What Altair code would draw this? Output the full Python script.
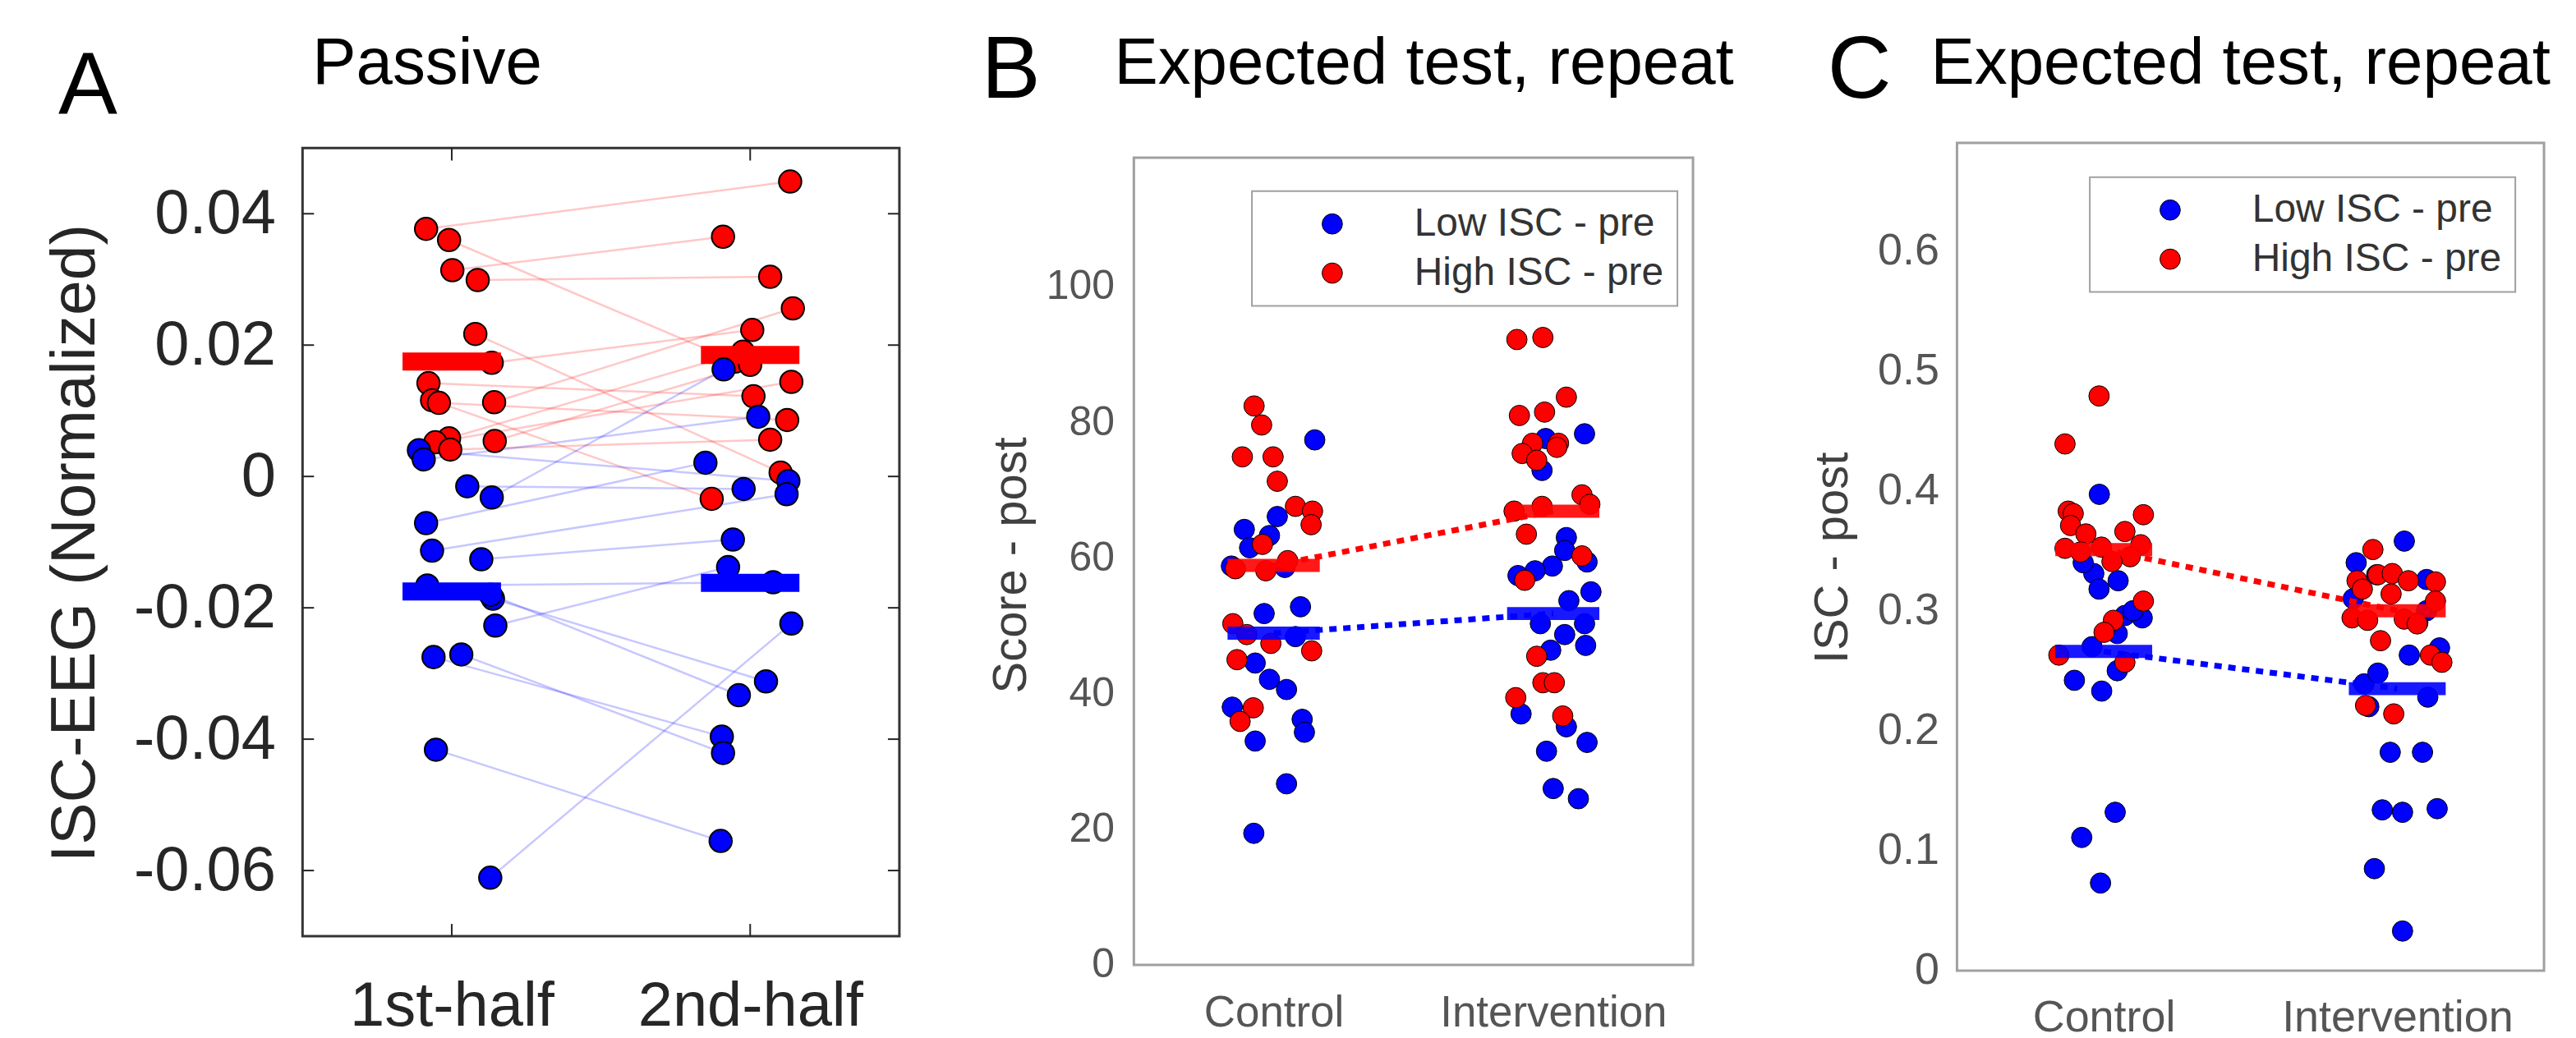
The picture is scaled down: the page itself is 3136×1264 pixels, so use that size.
import altair as alt
import pandas as pd

FONT = "Liberation Sans"

panel_letters = ["A", "B", "C"]
panel_titles = ["Passive", "Expected test, repeat", "Expected test, repeat"]
legend_labels = ["Low ISC - pre", "High ISC - pre"]

# ---------------- Panel A data ----------------
a_x_ticks = [1, 2]
a_x_labels = ["1st-half", "2nd-half"]
a_y_ticks = [-0.06, -0.04, -0.02, 0, 0.02, 0.04]
a_frame = [0.5, 2.5, -0.07, 0.05]          # x0, x1, y0, y1 of the axes box

a_red_x1 = [0.914, 0.991, 1.002, 1.087, 1.079, 1.134, 0.922, 0.934, 0.957, 1.142, 0.991, 0.945, 0.995, 1.144]
a_red_y1 = [0.0377, 0.0360, 0.0314, 0.0299, 0.0217, 0.0173, 0.0142, 0.0116, 0.0112, 0.0113, 0.0058, 0.0052, 0.0041, 0.0054]
a_red_x2 = [2.134, 1.950, 1.909, 2.067, 2.102, 2.007, 2.011, 1.871, 2.124, 2.143, 1.976, 2.138, 2.067, 2.000]
a_red_y2 = [0.0449, 0.0175, 0.0365, 0.0304, 0.0006, 0.0223, 0.0122, -0.0034, 0.0086, 0.0256, 0.0190, 0.0144, 0.0056, 0.0170]

a_blue_x1 = [0.890, 0.906, 1.052, 1.134, 0.914, 0.934, 1.099, 0.918, 1.138, 1.130, 1.146, 0.939, 1.032, 0.947, 1.129]
a_blue_y1 = [0.0040, 0.0026, -0.0015, -0.0032, -0.0071, -0.0113, -0.0126, -0.0166, -0.0186, -0.0180, -0.0227, -0.0275, -0.0271, -0.0416, -0.0611]
a_blue_x2 = [2.128, 2.027, 1.978, 1.911, 1.850, 2.122, 1.942, 2.077, 2.053, 1.962, 1.926, 1.905, 1.909, 1.901, 2.138]
a_blue_y2 = [-0.0007, 0.0091, -0.0019, 0.0163, 0.0021, -0.0027, -0.0096, -0.0161, -0.0312, -0.0333, -0.0138, -0.0396, -0.0421, -0.0555, -0.0224]

a_mean_lo = [0.835, 1.835]
a_mean_hi = [1.165, 2.165]
a_mean_red = [0.0175, 0.0185]
a_mean_blue = [-0.0175, -0.0162]

# ---------------- Panel B data ----------------
b_x_ticks = [1, 2]
b_x_labels = ["Control", "Intervention"]
b_y_ticks = [0, 20, 40, 60, 80, 100]
b_frame = [0.5, 2.5, 0, 119]

b_blue_x = [1.147, 0.895, 1.013, 0.985, 0.914, 0.849, 1.040, 0.966, 1.096, 1.078, 0.934, 0.985, 1.046, 0.852, 1.102, 1.110, 0.934, 1.046, 0.929,
            2.112, 1.973, 1.960, 2.047, 2.041, 1.997, 1.935, 1.874, 2.121, 2.135, 2.056, 1.954, 2.112, 2.041, 2.116, 1.991, 1.885, 2.047, 2.121, 1.976, 2.000, 2.090]
b_blue_y = [77.4, 64.2, 66.1, 63.3, 61.5, 58.8, 58.6, 51.8, 52.8, 48.4, 44.5, 42.1, 40.6, 38.0, 36.2, 34.3, 33.0, 26.7, 19.4,
            78.3, 77.6, 72.9, 63.0, 61.1, 58.8, 58.1, 57.4, 59.4, 55.0, 53.7, 50.3, 50.3, 48.7, 47.1, 46.4, 37.0, 35.1, 32.8, 31.5, 26.0, 24.5]
b_red_x = [0.930, 0.957, 0.888, 0.998, 1.013, 1.078, 1.139, 1.134, 0.960, 0.863, 0.972, 1.050, 0.854, 0.904, 0.990, 0.869, 1.136, 0.927, 0.880,
           1.870, 1.963, 2.047, 1.879, 1.969, 1.926, 2.019, 1.889, 1.941, 2.013, 2.103, 2.131, 1.904, 2.103, 1.898, 1.941, 1.963, 2.004, 1.866, 2.034, 1.960, 1.860]
b_red_y = [82.4, 79.6, 74.9, 74.9, 71.3, 67.6, 66.9, 64.9, 62.0, 58.4, 58.1, 59.6, 50.3, 48.7, 47.4, 45.0, 46.3, 37.9, 35.9,
           92.2, 92.5, 83.7, 81.0, 81.5, 76.9, 76.9, 75.4, 74.4, 76.3, 69.3, 67.9, 63.5, 60.3, 56.7, 45.5, 41.6, 41.6, 39.4, 36.7, 67.6, 66.9]
b_mean_lo = [0.835, 1.835]
b_mean_hi = [1.165, 2.165]
b_mean_blue = [48.9, 51.8]
b_mean_red = [58.9, 66.9]

# ---------------- Panel C data ----------------
c_x_ticks = [1, 2]
c_x_labels = ["Control", "Intervention"]
c_y_ticks = [0, 0.1, 0.2, 0.3, 0.4, 0.5, 0.6]
c_frame = [0.5, 2.5, 0, 0.69]

c_blue_x = [0.985, 0.966, 1.049, 0.984, 1.072, 1.131, 1.046, 1.046, 0.900, 0.993, 1.039, 0.925, 0.989, 0.930, 1.100, 0.960,
            2.024, 1.860, 2.100, 2.041, 2.144, 1.887, 1.934, 2.104, 1.903, 1.976, 2.086, 1.949, 2.018, 2.136, 1.922, 2.018, 1.930, 2.100, 1.850, 2.070]
c_blue_y = [0.397, 0.331, 0.325, 0.318, 0.296, 0.294, 0.281, 0.250, 0.242, 0.233, 0.132, 0.111, 0.073, 0.340, 0.300, 0.270,
            0.358, 0.340, 0.326, 0.263, 0.269, 0.239, 0.248, 0.228, 0.220, 0.182, 0.182, 0.134, 0.132, 0.135, 0.085, 0.033, 0.330, 0.300, 0.310, 0.290]
c_red_x = [0.984, 0.868, 0.879, 0.896, 1.135, 0.887, 0.939, 1.072, 0.868, 0.921, 0.992, 1.126, 1.090, 1.028, 1.135, 1.033, 1.001, 0.847, 1.072,
           1.917, 1.863, 1.934, 1.983, 2.038, 2.130, 1.881, 1.979, 2.130, 1.846, 1.899, 2.024, 2.068, 1.943, 2.113, 2.152, 1.892, 1.988]
c_red_y = [0.479, 0.439, 0.383, 0.381, 0.380, 0.371, 0.364, 0.366, 0.352, 0.349, 0.353, 0.355, 0.345, 0.341, 0.308, 0.292, 0.282, 0.263, 0.257,
           0.351, 0.325, 0.330, 0.331, 0.325, 0.324, 0.318, 0.314, 0.308, 0.294, 0.292, 0.293, 0.289, 0.275, 0.263, 0.257, 0.221, 0.214]
c_mean_lo = [0.835, 1.835]
c_mean_hi = [1.165, 2.165]
c_mean_blue = [0.266, 0.235]
c_mean_red = [0.351, 0.300]

BLUE = "#0000ff"
RED = "#ff0000"


def label_expr(vals, labels):
    expr = "''"
    for v, l in reversed(list(zip(vals, labels))):
        expr = f"datum.value == {v} ? '{l}' : ({expr})"
    return expr


def text_layer(txt, x, y, size):
    return alt.Chart(pd.DataFrame({"t": [txt]})).mark_text(
        align="left", baseline="alphabetic", fontSize=size, font=FONT, color="#000000"
    ).encode(text="t:N", x=alt.value(x), y=alt.value(y))


def box_layer(left, right, top, bottom):
    # invisible diagonal rule that fixes the panel's layout box
    return alt.Chart(pd.DataFrame({"v": [0]})).mark_rule(opacity=0, strokeWidth=0.1).encode(
        x=alt.value(left), x2=alt.value(right), y=alt.value(top), y2=alt.value(bottom))


def frame_layer(frame, X, Y, color):
    df = pd.DataFrame({"x": [frame[0]], "x2": [frame[1]], "y": [frame[2]], "y2": [frame[3]]})
    return alt.Chart(df).mark_rect(fillOpacity=0, stroke=color, strokeWidth=3).encode(
        x=X(), x2="x2:Q", y=Y(), y2="y2:Q")


NOVIEW = alt.ViewBackground(stroke="transparent")

# ================= Panel A =================
WA, HA = 728, 968
xA_scale = alt.Scale(domain=[0.5, 2.5], nice=False, zero=False)
yA_scale = alt.Scale(domain=[-0.07, 0.0508], nice=False, zero=False)
xA_axis = alt.Axis(values=a_x_ticks, labelExpr=label_expr(a_x_ticks, a_x_labels), ticks=False, domain=False,
                   grid=False, labelFontSize=76, labelFont=FONT, labelColor="#262626", labelPadding=49,
                   labelLimit=1000)
yA_axis = alt.Axis(values=a_y_ticks, labelExpr="'' + datum.value", ticks=False, domain=False, grid=False,
                   labelFontSize=76, labelFont=FONT, labelColor="#262626", labelPadding=33, labelLimit=1000,
                   titleFontSize=77, titleFont=FONT, titleFontWeight="normal", titleColor="#262626",
                   titlePadding=38, titleLimit=2000, titleY=488)


def XA(f="x"):
    return alt.X(f"{f}:Q", scale=xA_scale, axis=xA_axis, title=None)


def YA(f="y"):
    return alt.Y(f"{f}:Q", scale=yA_scale, axis=yA_axis, title="ISC-EEG (Normalized)")


linesA = pd.DataFrame({
    "x": a_red_x1 + a_blue_x1, "y": a_red_y1 + a_blue_y1,
    "x2": a_red_x2 + a_blue_x2, "y2": a_red_y2 + a_blue_y2,
    "c": [RED] * len(a_red_x1) + [BLUE] * len(a_blue_x1),
})
redA = pd.DataFrame({"x": a_red_x1 + a_red_x2, "y": a_red_y1 + a_red_y2})
blueA = pd.DataFrame({"x": a_blue_x1 + a_blue_x2, "y": a_blue_y1 + a_blue_y2})
mredA = pd.DataFrame({"x": a_mean_lo, "x2": a_mean_hi, "y": a_mean_red})
mblueA = pd.DataFrame({"x": a_mean_lo, "x2": a_mean_hi, "y": a_mean_blue})
ytA = pd.DataFrame({"y": a_y_ticks})
xtA_bottom = pd.DataFrame({"x": a_x_ticks})
xtA_top = pd.DataFrame({"x": a_x_ticks, "y": [a_frame[3]] * 2, "y2": [a_frame[3] - 0.0019] * 2})

ptsA_kw = dict(size=760, opacity=1, stroke="#000000", strokeWidth=2)
TICK = dict(color="#262626", strokeWidth=2)
layersA = [
    box_layer(-328, WA + 84, -156, HA + 120),
    frame_layer(a_frame, XA, YA, "#333333"),
    alt.Chart(linesA).mark_rule(strokeWidth=2.5, opacity=0.22).encode(
        x=XA(), y=YA(), x2="x2:Q", y2="y2:Q", color=alt.Color("c:N", scale=None)),
    alt.Chart(redA).mark_circle(fill=RED, **ptsA_kw).encode(x=XA(), y=YA()),
    alt.Chart(mredA).mark_rule(strokeWidth=22, color=RED).encode(x=XA(), x2="x2:Q", y=YA()),
    alt.Chart(blueA).mark_circle(fill=BLUE, **ptsA_kw).encode(x=XA(), y=YA()),
    alt.Chart(mblueA).mark_rule(strokeWidth=22, color=BLUE).encode(x=XA(), x2="x2:Q", y=YA()),
    alt.Chart(ytA).mark_rule(**TICK).encode(y=YA(), x=alt.value(0), x2=alt.value(14)),
    alt.Chart(ytA).mark_rule(**TICK).encode(y=YA(), x=alt.value(WA - 14), x2=alt.value(WA)),
    alt.Chart(xtA_top).mark_rule(**TICK).encode(x=XA(), y=YA(), y2="y2:Q"),
    alt.Chart(xtA_bottom).mark_rule(**TICK).encode(x=XA(), y=alt.value(HA - 15), y2=alt.value(HA)),
    text_layer(panel_titles[0], 12, -72, 80),
    text_layer(panel_letters[0], -298, -35, 108),
]
panelA = alt.layer(*layersA).properties(width=WA, height=HA, view=NOVIEW)


# ================= Panels B and C =================
def make_panel(W, H, ydom, frame, x_ticks, x_labels, y_ticks, ytitle, blue_x, blue_y, red_x, red_y,
               mlo, mhi, mblue, mred, letter, title, title_xy, letter_xy, legend_xy, box,
               ylab_size, xlab_size, ylab_pad, xlab_pad, title_pad, title_y):
    xs = alt.Scale(domain=[0.5, 2.5], nice=False, zero=False)
    ys = alt.Scale(domain=ydom, nice=False, zero=False)
    xax = alt.Axis(values=x_ticks, labelExpr=label_expr(x_ticks, x_labels), ticks=False, domain=False, grid=False,
                   labelFontSize=xlab_size, labelFont=FONT, labelColor="#555555", labelPadding=xlab_pad,
                   labelLimit=1000)
    yax = alt.Axis(values=y_ticks, labelExpr="'' + datum.value", ticks=False, domain=False, grid=False,
                   labelFontSize=ylab_size, labelFont=FONT, labelColor="#555555", labelPadding=ylab_pad,
                   labelLimit=1000, titleFontSize=58, titleFont=FONT, titleFontWeight="normal",
                   titleColor="#404040", titlePadding=title_pad, titleLimit=2000, titleY=title_y)

    def X(f="x"):
        return alt.X(f"{f}:Q", scale=xs, axis=xax, title=None)

    def Y(f="y"):
        return alt.Y(f"{f}:Q", scale=ys, axis=yax, title=ytitle)

    pts = pd.DataFrame({
        "x": blue_x + red_x, "y": blue_y + red_y,
        "grp": [legend_labels[0]] * len(blue_x) + [legend_labels[1]] * len(red_x),
    })
    legend = alt.Legend(title=None, orient="none", legendX=legend_xy[0], legendY=legend_xy[1],
                        direction="vertical", strokeColor="#a0a0a0", padding=16, rowPadding=12,
                        symbolType="circle", symbolSize=615, symbolStrokeColor="#000000",
                        symbolStrokeWidth=1, symbolOpacity=1, symbolOffset=58, labelOffset=76,
                        labelFontSize=48, labelFont=FONT, labelColor="#333333", labelLimit=1000)
    trend_blue = pd.DataFrame({"x": [x_ticks[0]], "x2": [x_ticks[1]], "y": [mblue[0]], "y2": [mblue[1]]})
    trend_red = pd.DataFrame({"x": [x_ticks[0]], "x2": [x_ticks[1]], "y": [mred[0]], "y2": [mred[1]]})
    mb = pd.DataFrame({"x": mlo, "x2": mhi, "y": mblue})
    mr = pd.DataFrame({"x": mlo, "x2": mhi, "y": mred})
    layers = [
        box_layer(*box),
        frame_layer(frame, X, Y, "#a0a0a0"),
        alt.Chart(pts).mark_circle(size=620, opacity=1, stroke="#000000", strokeWidth=1).encode(
            x=X(), y=Y(),
            color=alt.Color("grp:N", scale=alt.Scale(domain=legend_labels, range=[BLUE, RED]), legend=legend)),
        alt.Chart(trend_blue).mark_rule(color=BLUE, strokeWidth=7, strokeDash=[9, 8]).encode(
            x=X(), x2="x2:Q", y=Y(), y2="y2:Q"),
        alt.Chart(trend_red).mark_rule(color=RED, strokeWidth=7, strokeDash=[9, 8]).encode(
            x=X(), x2="x2:Q", y=Y(), y2="y2:Q"),
        alt.Chart(mb).mark_rule(color=BLUE, strokeWidth=16, opacity=0.9).encode(x=X(), x2="x2:Q", y=Y()),
        alt.Chart(mr).mark_rule(color=RED, strokeWidth=16, opacity=0.9).encode(x=X(), x2="x2:Q", y=Y()),
        text_layer(title, title_xy[0], title_xy[1], 80),
        text_layer(letter, letter_xy[0], letter_xy[1], 108),
    ]
    return alt.layer(*layers).properties(width=W, height=H, view=NOVIEW)


panelB = make_panel(682, 1003, [0, 121.2], b_frame, b_x_ticks, b_x_labels, b_y_ticks, "Score - post",
                    b_blue_x, b_blue_y, b_red_x, b_red_y, b_mean_lo, b_mean_hi, b_mean_blue, b_mean_red,
                    panel_letters[1], panel_titles[1], (-24, -72), (-186, -55), (144, 59),
                    (-200, 682 + 128, -156, 1003 + 85),
                    50, 53, 24, 33, 13, 515)
panelC = make_panel(716, 1010, [0, 0.69], c_frame, c_x_ticks, c_x_labels, c_y_ticks, "ISC - post",
                    c_blue_x, c_blue_y, c_red_x, c_red_y, c_mean_lo, c_mean_hi, c_mean_blue, c_mean_red,
                    panel_letters[2], panel_titles[2], (-32, -72), (-158, -55), (162, 42),
                    (-192, 716 + 22, -156, 1010 + 78),
                    54, 54, 22, 31, 25, 506)

chart = alt.hconcat(panelA, panelB, panelC, spacing=0).resolve_scale(
    color="independent").resolve_legend(color="independent").properties(
    padding={"left": 32, "top": 8, "right": 8, "bottom": 4}, background="#ffffff"
).configure_legend(strokeWidth=2).configure_view(stroke="transparent")

chart.save("out.html", embed_options={"renderer": "svg", "actions": False})
